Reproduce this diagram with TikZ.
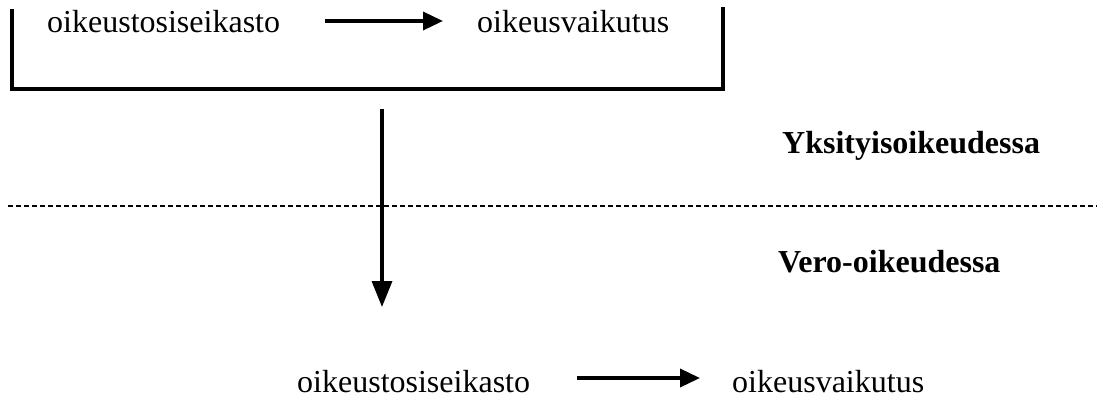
\documentclass[tikz,border=0pt]{standalone}
\usepackage{fontspec}
\setmainfont{Liberation Serif}
\usetikzlibrary{arrows.meta}
\tikzset{
  lbl/.style={anchor=base west, inner sep=0pt, font=\fontsize{32}{38}\selectfont},
  blbl/.style={lbl, font=\fontsize{32}{38}\selectfont\bfseries},
  thick line/.style={line width=3.5pt},
  harrow/.style={line width=3.5pt, -{Triangle[length=20pt,width=18pt]}},
  varrow/.style={line width=3.5pt, -{Triangle[length=26pt,width=20pt]}},
  divider/.style={line width=1.6pt, dash pattern=on 4.5pt off 3.5pt}
}
\begin{document}
\begin{tikzpicture}[x=1pt,y=-1pt]
\useasboundingbox (0,0) rectangle (1103,399);
% box (open at top)
\draw[thick line] (12,9) -- (12,89) -- (723,89) -- (723,7);
% top row
\node[lbl] (t1) at (47,32) {oikeustosiseikasto};
\node[lbl] (t2) at (477,32) {oikeusvaikutus};
\coordinate (a1s) at (325,21);
\coordinate (a1e) at (443,21);
\draw[harrow] (a1s) -- (a1e);
% vertical arrow
\coordinate (vs) at (382,109);
\coordinate (ve) at (382,307);
\draw[varrow] (vs) -- (ve);
% divider
\coordinate (dl) at (8,206);
\coordinate (dr) at (1097,206);
\draw[divider] (dl) -- (dr);
% labels
\node[blbl] (yk) at (782,153) {Yksityisoikeudessa};
\node[blbl] (ve2) at (778,272) {Vero-oikeudessa};
% bottom row
\node[lbl] (b1) at (297,392) {oikeustosiseikasto};
\node[lbl] (b2) at (732,392) {oikeusvaikutus};
\coordinate (a2s) at (577,378);
\coordinate (a2e) at (700,378);
\draw[harrow] (a2s) -- (a2e);
\end{tikzpicture}
\end{document}
